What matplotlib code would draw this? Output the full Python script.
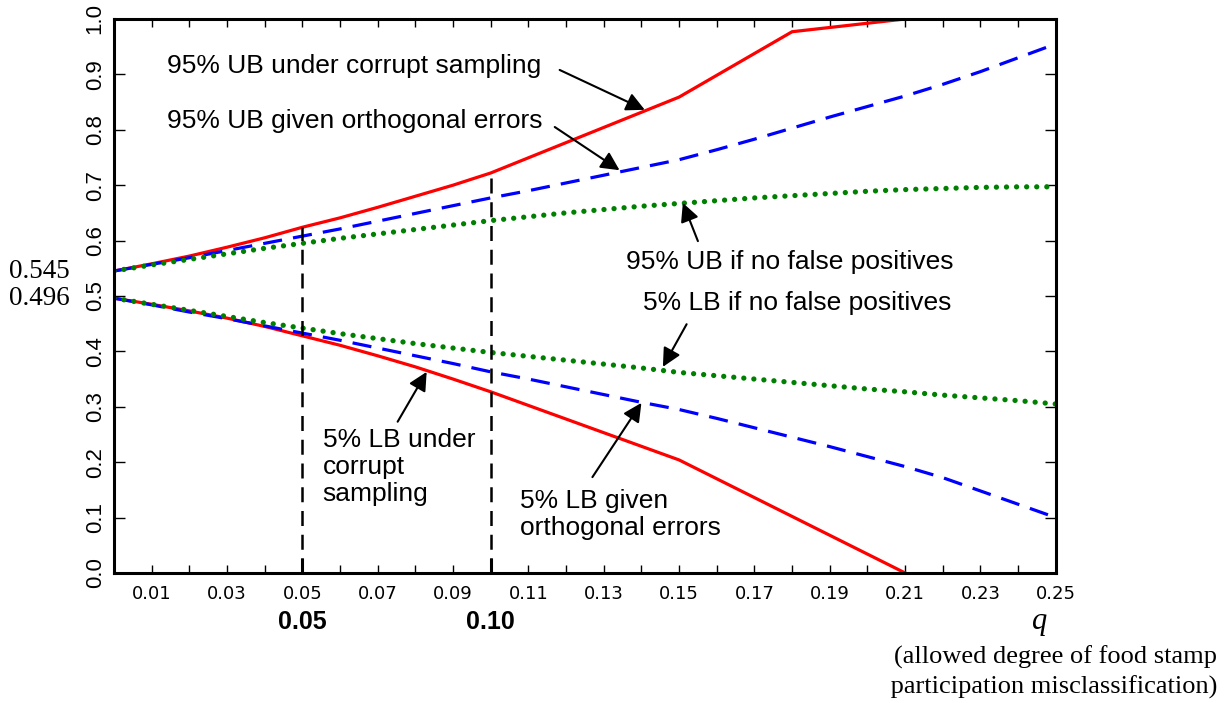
import matplotlib
matplotlib.use('Agg')
import matplotlib.pyplot as plt
import numpy as np

# q grid and bounds
q = np.round(np.arange(0, 0.2501, 0.01), 2)

# corrupt sampling (red, solid)
q_red_ub = [0.0, 0.01, 0.02, 0.03, 0.04, 0.05, 0.06, 0.07, 0.08, 0.09, 0.10, 0.15, 0.18, 0.21]
red_ub = [0.545, 0.558, 0.572, 0.588, 0.605, 0.624, 0.641, 0.660, 0.680, 0.700, 0.722, 0.859, 0.977, 1.0]
q_red_lb = [0.0, 0.01, 0.02, 0.03, 0.04, 0.05, 0.06, 0.07, 0.08, 0.09, 0.10, 0.15, 0.21]
red_lb = [0.496, 0.485, 0.473, 0.460, 0.445, 0.428, 0.411, 0.392, 0.372, 0.350, 0.327, 0.204, 0.0]

# orthogonal errors (blue, dashed)
blue_ub = [0.545, 0.557, 0.569, 0.582, 0.595, 0.608, 0.621, 0.635, 0.649, 0.663, 0.677,
           0.690, 0.704, 0.718, 0.732, 0.746, 0.764, 0.783, 0.803, 0.823, 0.842,
           0.861, 0.882, 0.905, 0.930, 0.955]
blue_lb = [0.496, 0.484, 0.471, 0.459, 0.446, 0.433, 0.420, 0.406, 0.392, 0.378, 0.363,
           0.350, 0.336, 0.322, 0.308, 0.295, 0.279, 0.262, 0.245, 0.228, 0.210,
           0.192, 0.172, 0.148, 0.124, 0.100]

# no false positives (green, dotted)
green_ub = [0.545, 0.556, 0.566, 0.576, 0.586, 0.595, 0.604, 0.612, 0.620, 0.628, 0.636,
            0.643, 0.650, 0.656, 0.662, 0.667, 0.672, 0.677, 0.681, 0.685, 0.689,
            0.692, 0.694, 0.696, 0.697, 0.697]
green_lb = [0.496, 0.485, 0.474, 0.463, 0.452, 0.442, 0.432, 0.423, 0.414, 0.406, 0.398,
            0.391, 0.384, 0.377, 0.370, 0.362, 0.356, 0.350, 0.344, 0.338, 0.332,
            0.327, 0.321, 0.316, 0.311, 0.305]

q_marks = [0.05, 0.10]
start_vals = [0.545, 0.496]

sans = ['Liberation Sans', 'DejaVu Sans']
serif = ['Liberation Serif', 'DejaVu Serif']

fig = plt.figure(figsize=(12.32, 7.03), dpi=100)
ax = fig.add_axes([0.0925, 0.185, 0.7645, 0.788])

ax.plot(q_red_ub, red_ub, color='#ff0000', lw=2.3, solid_joinstyle='miter')
ax.plot(q_red_lb, red_lb, color='#ff0000', lw=2.3)
ax.plot(q, blue_ub, color='#0000ff', lw=2.3, dashes=(6, 3.5))
ax.plot(q, blue_lb, color='#0000ff', lw=2.3, dashes=(6, 3.5))
ax.plot(q, green_ub, color='#008000', lw=3.8, linestyle=(0, (0.01, 1.9)), dash_capstyle='round')
ax.plot(q, green_lb, color='#008000', lw=3.8, linestyle=(0, (0.01, 1.9)), dash_capstyle='round')

# vertical reference lines up to the red upper bound
for qm in q_marks:
    ax.vlines(qm, 0, np.interp(qm, q_red_ub, red_ub), colors='black', lw=1.8, linestyles=(0, (6, 3.5)))

ax.set_xlim(0, 0.25)
ax.set_ylim(0, 1.0)

# ticks
ax.set_xticks(q[1:])
ax.set_xticklabels([f'{v:.2f}' if round(v * 100) % 2 == 1 else '' for v in q[1:]],
                   family=['DejaVu Sans'], fontsize=13)
ax.set_xticks(q_marks, minor=True)
ax.xaxis.remove_overlapping_locs = False
ax.tick_params(axis='x', which='major', direction='in', length=6, width=1, top=True, pad=9)
ax.tick_params(axis='x', which='minor', direction='in', length=11, width=2.2)

ax.set_yticks(np.round(np.arange(0, 1.01, 0.1), 1))
ax.set_yticklabels([f'{v:.1f}' for v in np.arange(0, 1.01, 0.1)], rotation=90, va='center',
                   family=sans, fontsize=16)
ax.tick_params(axis='y', direction='in', length=8, width=1, right=True, pad=6)

for s in ax.spines.values():
    s.set_linewidth(2.2)

# annotations
def note(txt, x, y, **kw):
    ax.text(x, y, txt, family=sans, fontsize=19, va='center', ha='left', linespacing=1.15, **kw)

def arrow(tail, tip):
    ax.annotate('', xy=tip, xytext=tail,
                arrowprops=dict(arrowstyle='-|>', color='black', lw=1.5, mutation_scale=28,
                                shrinkA=0, shrinkB=0))

note('95% UB under corrupt sampling', 0.0142, 0.915)
arrow((0.1183, 0.908), (0.1409, 0.836))
note('95% UB given orthogonal errors', 0.0142, 0.816)
arrow((0.117, 0.805), (0.1342, 0.727))
note('95% UB if no false positives', 0.136, 0.561)
arrow((0.155, 0.599), (0.151, 0.668))
note('5% LB if no false positives', 0.1404, 0.487)
arrow((0.152, 0.449), (0.1457, 0.372))
note('5% LB under\ncorrupt\nsampling', 0.0554, 0.191)
arrow((0.0753, 0.273), (0.083, 0.363))
note('5% LB given\northogonal errors', 0.1077, 0.105)
arrow((0.127, 0.173), (0.140, 0.307))

# starting values at the left
ytrans = ax.get_yaxis_transform()
for v in start_vals:
    ax.text(-0.047, v, f'{v:.3f}', transform=ytrans, ha='right', va='center',
            family=serif, fontsize=19.5)

# bold reference q values below axis
xtrans = ax.get_xaxis_transform()
for qm in q_marks:
    ax.text(qm, -0.088, f'{qm:.2f}', transform=xtrans, ha='center', va='center',
            family=sans, fontsize=18, fontweight='bold')

ax.text(0.2457, -0.088, 'q', transform=xtrans, ha='center', va='center',
        family=serif, fontsize=22, style='italic')
fig.text(0.988, 0.044, '(allowed degree of food stamp\n participation misclassification)',
         ha='right', va='center', family=serif, fontsize=19, linespacing=1.35)

fig.savefig('out.png', dpi=100)
